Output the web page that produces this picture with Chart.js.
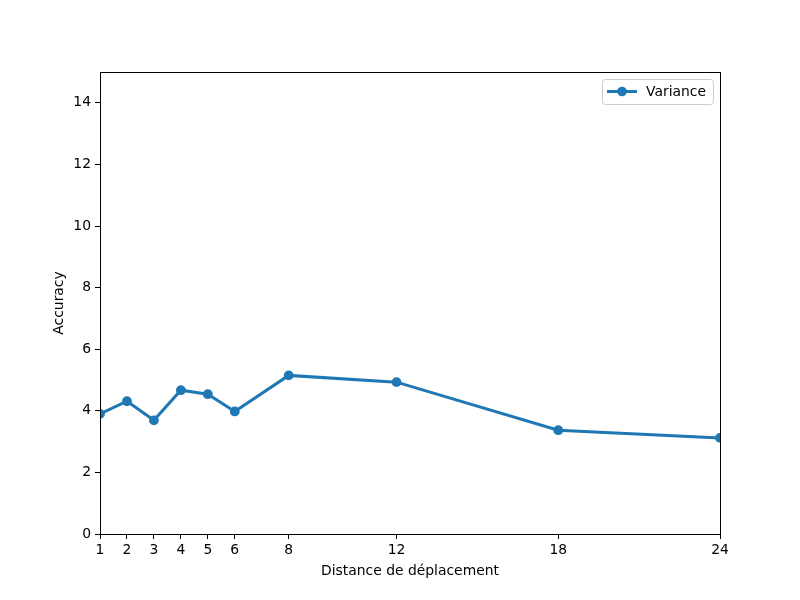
<!DOCTYPE html>
<html>
<head>
<meta charset="utf-8">
<script src="https://cdn.jsdelivr.net/npm/chart.js@4.4.0/dist/chart.umd.min.js"></script>
<style>
  body { margin: 0; background: #fff; }
  canvas { display: block; }
</style>
</head>
<body>
<canvas id="lineChart" width="800" height="600"></canvas>
<script>
// distances (x) and variance values
const distances = [1, 2, 3, 4, 5, 6, 8, 12, 18, 24];
const variance = [3.90, 4.31, 3.69, 4.67, 4.54, 3.98, 5.15, 4.93, 3.37, 3.12];
const xTicks = [1, 2, 3, 4, 5, 6, 8, 12, 18, 24];
const yTicks = [0, 2, 4, 6, 8, 10, 12, 14];

const blue = "#1f77b4";
const font = { family: "DejaVu Sans", size: 13.9 };

// frame around the plot + legend inside the axes, matplotlib style
const framePlugin = {
  id: "frame",
  afterDraw(chart) {
    const { ctx, chartArea: a } = chart;
    ctx.save();
    ctx.strokeStyle = "#000";
    ctx.lineWidth = 1;
    ctx.strokeRect(a.left + 0.5, a.top + 0.5, a.right - a.left, a.bottom - a.top);

    // legend box
    const bx = 602, by = 79, bw = 111, bh = 25;
    ctx.fillStyle = "rgba(255,255,255,0.8)";
    ctx.strokeStyle = "#cccccc";
    ctx.beginPath();
    ctx.roundRect(bx + 0.5, by + 0.5, bw, bh, 3);
    ctx.fill();
    ctx.stroke();
    const ds = chart.data.datasets[0];
    ctx.strokeStyle = ds.borderColor;
    ctx.lineWidth = 3;
    ctx.beginPath();
    ctx.moveTo(607, by + 12.5);
    ctx.lineTo(637, by + 12.5);
    ctx.stroke();
    ctx.fillStyle = ds.borderColor;
    ctx.beginPath();
    ctx.arc(622, by + 12.5, 4.8, 0, Math.PI * 2);
    ctx.fill();
    ctx.fillStyle = "#000";
    ctx.font = "13.9px 'DejaVu Sans'";
    ctx.textBaseline = "middle";
    ctx.fillText(ds.label, 646, by + 13);
    ctx.restore();
  }
};

const ctx = document.getElementById("lineChart").getContext("2d");
new Chart(ctx, {
  type: "line",
  data: {
    datasets: [
      {
        label: "Variance",
        data: distances.map((d, i) => ({ x: d, y: variance[i] })),
        borderColor: blue,
        backgroundColor: blue,
        borderWidth: 3,
        pointRadius: 4.9,
        pointHoverRadius: 4.9,
        pointBorderWidth: 0,
        tension: 0,
        clip: 0,
      },
    ],
  },
  options: {
    responsive: false,
    animation: false,
    layout: { padding: { left: 0, top: 72, right: 80, bottom: 0 } },
    plugins: {
      legend: { display: false },
      tooltip: { enabled: false },
    },
    scales: {
      x: {
        type: "linear",
        min: 1,
        max: 24,
        afterBuildTicks: (axis) => {
          axis.ticks = xTicks.map((v) => ({ value: v }));
        },
        afterFit: (axis) => { axis.height = 66; },
        grid: { drawOnChartArea: false, drawTicks: true, tickLength: 5, color: "#000" },
        border: { display: true, color: "#000" },
        ticks: { color: "#000", font: font, padding: 3, maxRotation: 0, autoSkip: false },
        title: {
          display: true,
          text: "Distance de déplacement",
          color: "#000",
          font: font,
          padding: { top: 0, bottom: 20 },
        },
      },
      y: {
        min: 0,
        max: 15,
        afterBuildTicks: (axis) => {
          axis.ticks = yTicks.map((v) => ({ value: v }));
        },
        afterFit: (axis) => { axis.width = 100; },
        grid: { drawOnChartArea: false, drawTicks: true, tickLength: 5, color: "#000" },
        border: { display: true, color: "#000" },
        ticks: { color: "#000", font: font, padding: 4 },
        title: {
          display: true,
          text: "Accuracy",
          color: "#000",
          font: font,
          padding: { top: 51, bottom: 0 },
        },
      },
    },
  },
  plugins: [framePlugin],
});
</script>
</body>
</html>
